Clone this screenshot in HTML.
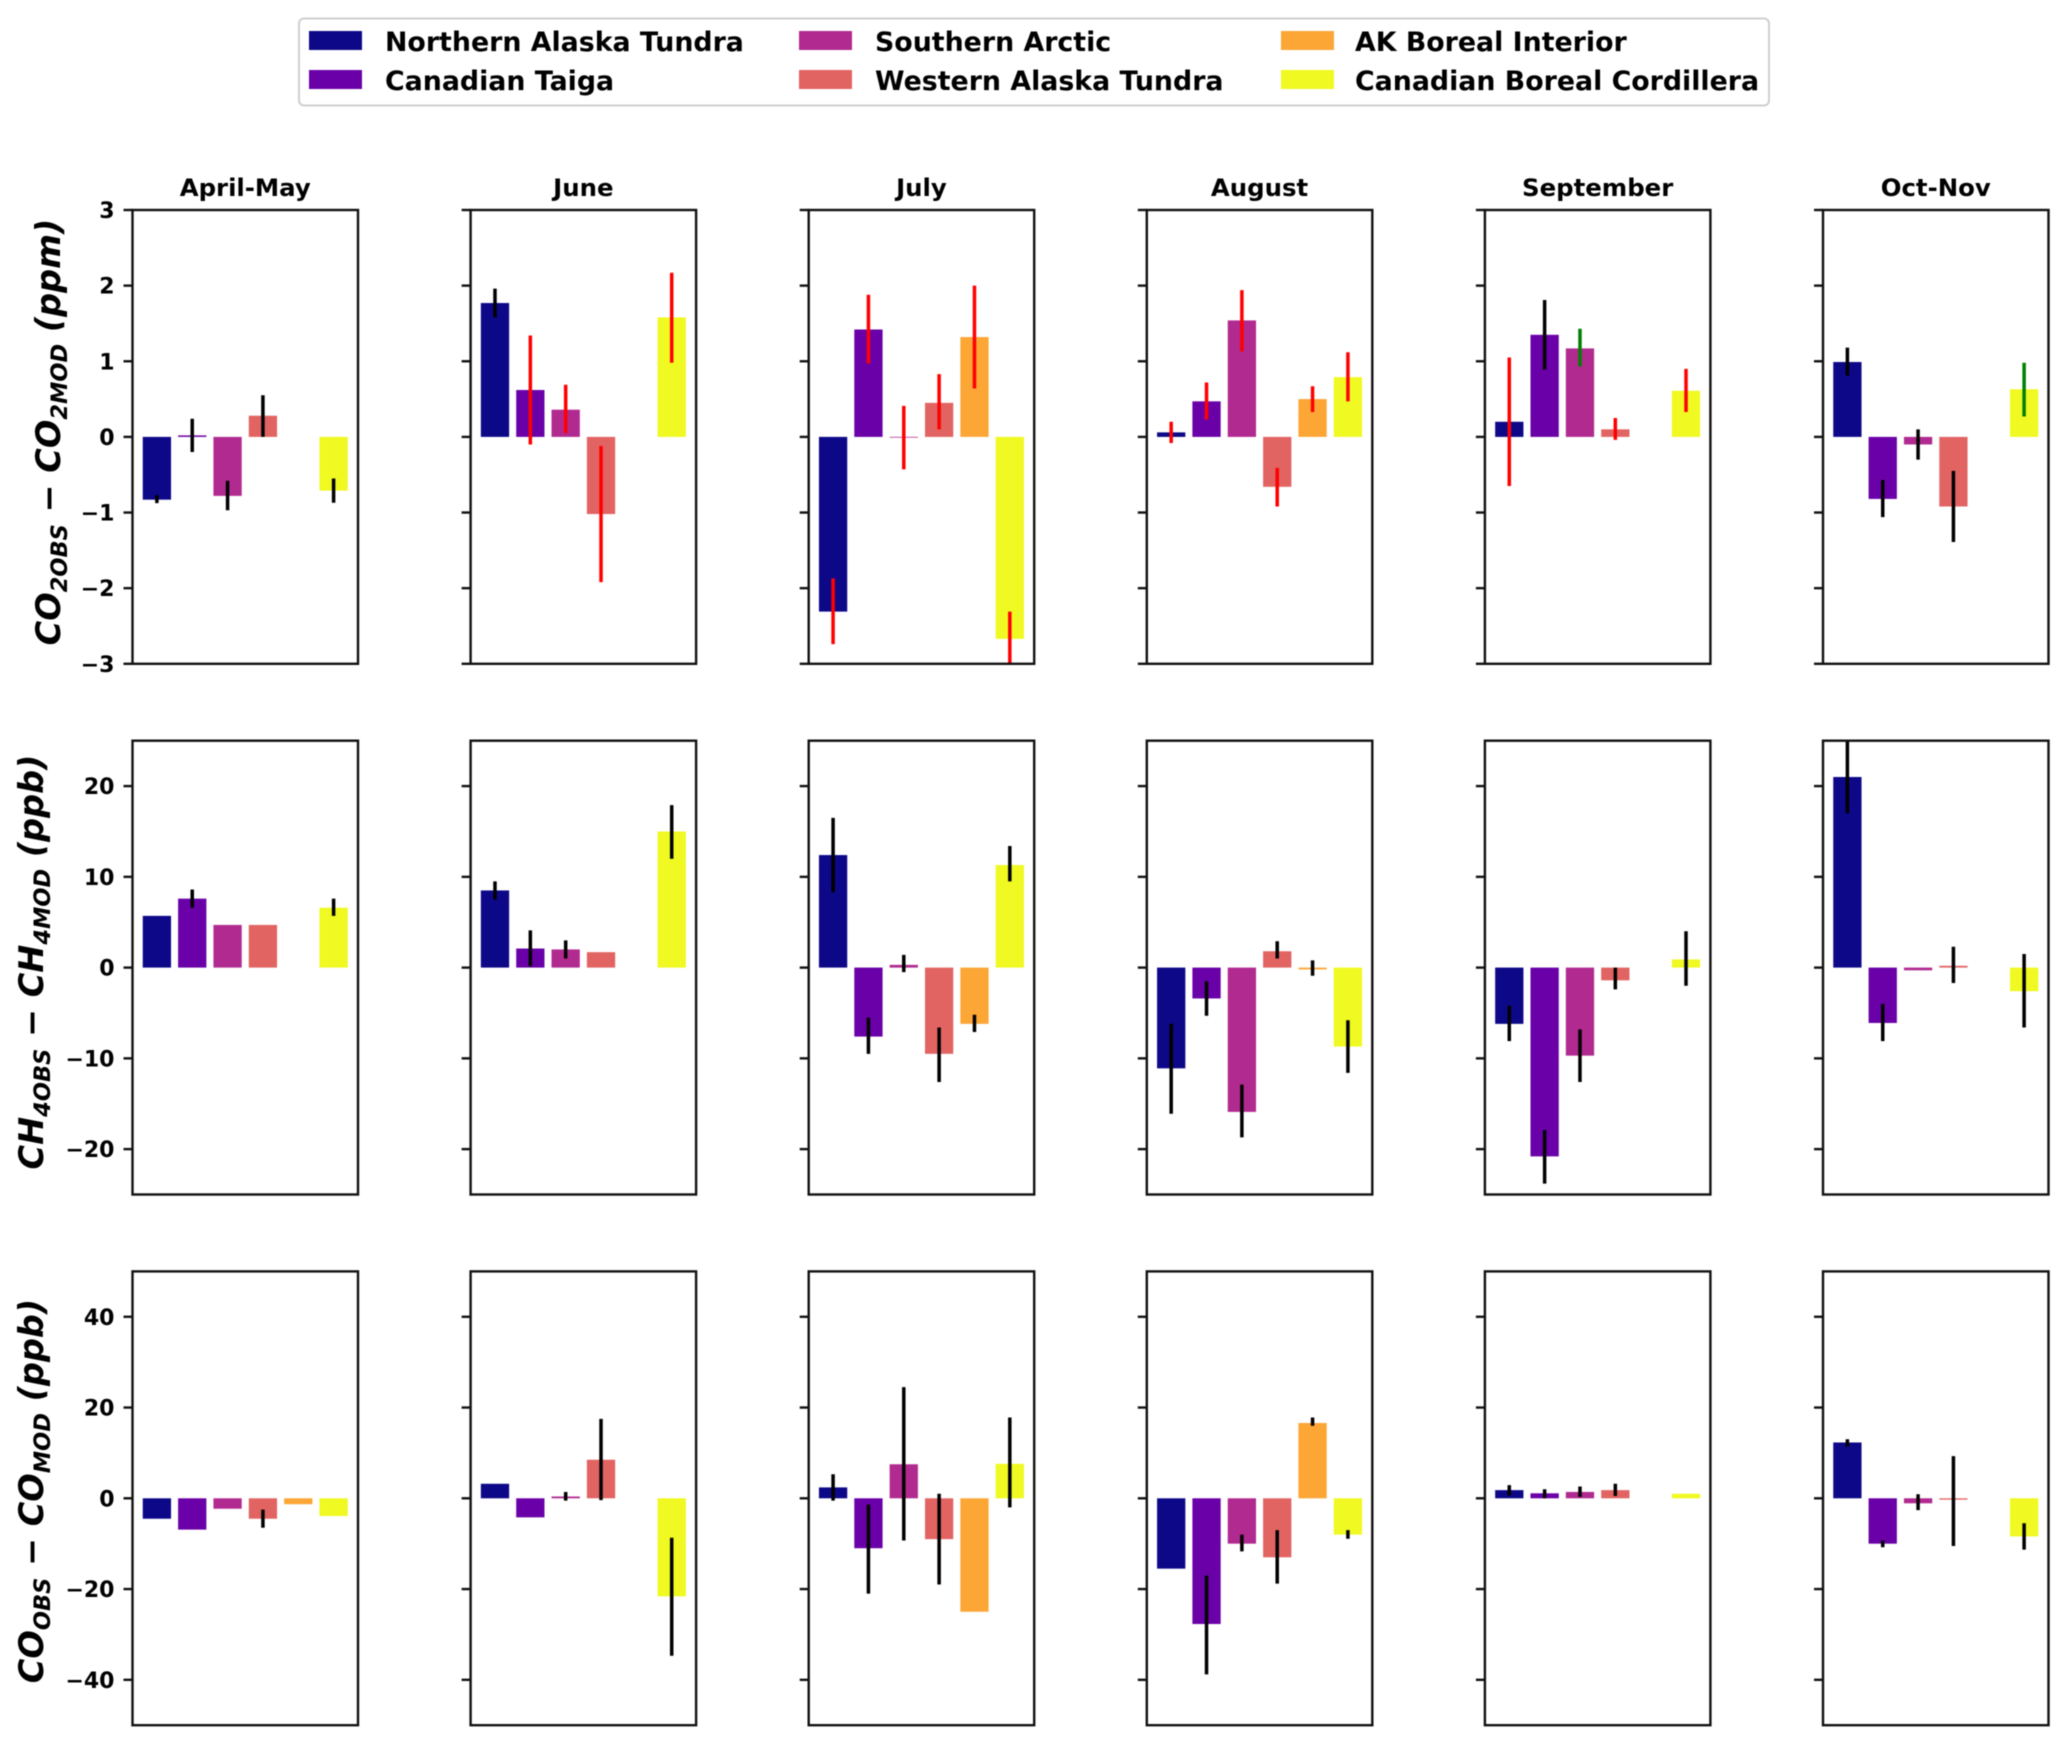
<!DOCTYPE html>
<html lang="en">
<head>
<meta charset="utf-8">
<title>Observed minus modelled trace gases by region and month</title>
<style>
html,body{margin:0;padding:0;background:#fff;}
svg{display:block;filter:blur(0.5px);}
text{font-family:"DejaVu Sans","Liberation Sans",sans-serif;font-weight:bold;fill:#000;}
.ylab{font-style:italic;font-size:33.5px;}
.sub{font-size:22.5px;}
.leg{font-size:26.8px;}
</style>
</head>
<body>
<svg id="chart" xmlns="http://www.w3.org/2000/svg" width="2067" height="1744" viewBox="0 0 2067 1744">
  <rect x="0" y="0" width="2067" height="1744" fill="#fff"/>
  <g>
    <rect x="299" y="18.500" width="1470" height="87" rx="5" fill="#fff" stroke="#cfcfcf" stroke-width="2"/>
    <rect x="309" y="31" width="53" height="19" fill="#0d0887"/>
    <text class="leg" x="385" y="51">Northern Alaska Tundra</text>
    <rect x="309" y="70" width="53" height="19" fill="#6a00a8"/>
    <text class="leg" x="385" y="90">Canadian Taiga</text>
    <rect x="799" y="31" width="53" height="19" fill="#b12a90"/>
    <text class="leg" x="875" y="51">Southern Arctic</text>
    <rect x="799" y="70" width="53" height="19" fill="#e16462"/>
    <text class="leg" x="875" y="90">Western Alaska Tundra</text>
    <rect x="1281" y="31" width="53" height="19" fill="#fca636"/>
    <text class="leg" x="1355" y="51">AK Boreal Interior</text>
    <rect x="1281" y="70" width="53" height="19" fill="#f0f921"/>
    <text class="leg" x="1355" y="90">Canadian Boreal Cordillera</text>
  </g>
  <text class="ylab" transform="translate(60,432) rotate(-90)" text-anchor="middle">CO<tspan class="sub" dy="7">2OBS</tspan><tspan dy="-7"> − CO</tspan><tspan class="sub" dy="7">2MOD</tspan><tspan dy="-7"> (ppm)</tspan></text>
  <text class="ylab" transform="translate(43,962) rotate(-90)" text-anchor="middle">CH<tspan class="sub" dy="7">4OBS</tspan><tspan dy="-7"> − CH</tspan><tspan class="sub" dy="7">4MOD</tspan><tspan dy="-7"> (ppb)</tspan></text>
  <text class="ylab" transform="translate(43,1491) rotate(-90)" text-anchor="middle">CO<tspan class="sub" dy="7">OBS</tspan><tspan dy="-7"> − CO</tspan><tspan class="sub" dy="7">MOD</tspan><tspan dy="-7"> (ppb)</tspan></text>
  <g id="panels"></g>
</svg>
<script>
const months = ['April-May','June','July','August','September','Oct-Nov'];
const regions = ['northern-alaska-tundra','canadian-taiga','southern-arctic','western-alaska-tundra','ak-boreal-interior','canadian-boreal-cordillera'];
const regionColors = ['#0d0887','#6a00a8','#b12a90','#e16462','#fca636','#f0f921'];

const co2Ticks = [-3,-2,-1,0,1,2,3];
const ch4Ticks = [-20,-10,0,10,20];
const coTicks = [-40,-20,0,20,40];
const co2Limit = [-3,3];
const ch4Limit = [-25,25];
const coLimit = [-50,50];

const co2Values = [
  [-0.83,0.02,-0.78,0.28,null,-0.71],
  [1.77,0.62,0.36,-1.02,null,1.58],
  [-2.31,1.42,-0.01,0.45,1.32,-2.67],
  [0.06,0.47,1.54,-0.66,0.5,0.79],
  [0.2,1.35,1.17,0.1,null,0.61],
  [0.99,-0.82,-0.1,-0.92,null,0.63]
];
const co2ErrHigh = [
  [-0.77,0.24,-0.58,0.55,null,-0.55],
  [1.96,1.34,0.69,-0.12,null,2.17],
  [-1.87,1.88,0.41,0.83,2.0,-2.31],
  [0.2,0.72,1.94,-0.41,0.67,1.12],
  [1.05,1.81,1.43,0.25,null,0.9],
  [1.18,-0.57,0.1,-0.45,null,0.98]
];
const co2ErrLow = [
  [-0.875,-0.2,-0.97,0,null,-0.87],
  [1.58,-0.1,0.05,-1.92,null,0.98],
  [-2.74,0.97,-0.43,0.1,0.64,-3.02],
  [-0.08,0.23,1.13,-0.92,0.33,0.47],
  [-0.65,0.89,0.93,-0.04,null,0.33],
  [0.81,-1.06,-0.3,-1.39,null,0.27]
];
const co2ErrColors = [
  ['#000','#000','#000','#000','#000','#000'],
  ['#000','#f00','#f00','#f00','#f00','#f00'],
  ['#f00','#f00','#f00','#f00','#f00','#f00'],
  ['#f00','#f00','#f00','#f00','#f00','#f00'],
  ['#f00','#000','#008000','#f00','#f00','#f00'],
  ['#000','#000','#000','#000','#000','#008000']
];

const ch4Values = [
  [5.7,7.6,4.7,4.7,null,6.6],
  [8.5,2.1,2.0,1.7,null,15],
  [12.4,-7.6,0.3,-9.5,-6.2,11.3],
  [-11.1,-3.4,-15.9,1.8,-0.2,-8.7],
  [-6.2,-20.8,-9.7,-1.4,null,0.9],
  [21,-6.1,-0.3,0.2,null,-2.6]
];
const ch4ErrHigh = [
  [null,8.6,null,null,null,7.6],
  [9.5,4.1,3,null,null,17.9],
  [16.5,-5.5,1.4,-6.6,-5.2,13.4],
  [-6.2,-1.5,-12.9,2.9,0.8,-5.8],
  [-4.2,-17.9,-6.8,0,null,4],
  [25.2,-4,null,2.3,null,1.5]
];
const ch4ErrLow = [
  [null,6.6,null,null,null,5.7],
  [7.5,0.15,1,null,null,12],
  [8.3,-9.5,-0.5,-12.6,-7.1,9.5],
  [-16.1,-5.3,-18.7,1,-0.9,-11.6],
  [-8.1,-23.8,-12.6,-2.4,null,-2],
  [17,-8.1,null,-1.7,null,-6.6]
];

const coValues = [
  [-4.5,-6.9,-2.3,-4.5,-1.3,-3.9],
  [3.2,-4.2,0.4,8.5,null,-21.6],
  [2.4,-11,7.5,-9,-25,7.6],
  [-15.5,-27.7,-10,-13,16.6,-8],
  [1.8,1.1,1.4,1.8,null,1],
  [12.3,-10,-1.1,-0.3,null,-8.4]
];
const coErrHigh = [
  [null,null,null,-2.5,null,null],
  [null,null,1.4,17.5,null,-8.7],
  [5.3,-1.4,24.5,1,null,17.8],
  [null,-17,-8,-7,17.8,-7],
  [2.9,2,2.6,3.2,null,null],
  [13,-9.3,0.9,9.3,null,-5.5]
];
const coErrLow = [
  [null,null,null,-6.5,null,null],
  [null,null,-0.5,-0.4,null,-34.7],
  [-0.5,-21,-9.3,-19,null,-2],
  [null,-38.8,-11.7,-18.8,16,-8.9],
  [0.6,0,0.3,0.5,null,null],
  [11.4,-10.8,-2.6,-10.5,null,-11.3]
];

const NS = 'http://www.w3.org/2000/svg';
const PANEL_LEFT = 132.5, PANEL_PITCH = 338.1, PANEL_W = 225.5;
const ROW_TOP = 210, ROW_PITCH = 530.7, PANEL_H = 453.8;
const ERR_W = 3.5, BAR_UNIT = PANEL_W / 6.38, BAR_W = 0.8 * BAR_UNIT;

function svgEl(tag, attrs) {
  const el = document.createElementNS(NS, tag);
  for (const k in attrs) el.setAttribute(k, attrs[k]);
  return el;
}
function xScale(col, idx) {
  return PANEL_LEFT + col * PANEL_PITCH + (0.69 + idx) * BAR_UNIT;
}
function yScale(row, limit, v) {
  const top = ROW_TOP + row * ROW_PITCH;
  return top + (limit[1] - v) / (limit[1] - limit[0]) * PANEL_H;
}
function tickText(v) {
  return v < 0 ? '\u2212' + Math.abs(v) : String(v);
}

function drawPanel(root, rowName, row, col, limit, ticks, values, hi, lo, errColors) {
  const left = PANEL_LEFT + col * PANEL_PITCH;
  const top = ROW_TOP + row * ROW_PITCH;
  const g = svgEl('g', {});
  
  
  root.appendChild(g);

  const clipId = 'clip-' + row + '-' + col;
  const clip = svgEl('clipPath', { id: clipId });
  clip.appendChild(svgEl('rect', { x: left, y: top, width: PANEL_W, height: PANEL_H }));
  g.appendChild(clip);

  values.forEach(function (v, i) {
    if (v === null) return;
    const y0 = yScale(row, limit, 0);
    const y1 = yScale(row, limit, v);
    const bar = svgEl('rect', {
      x: xScale(col, i) - BAR_W / 2,
      y: Math.min(y0, y1),
      width: BAR_W,
      height: Math.abs(y1 - y0),
      fill: regionColors[i],
      'clip-path': 'url(#' + clipId + ')'
    });
    
    
    g.appendChild(bar);
  });

  values.forEach(function (v, i) {
    if (hi[i] === null || lo[i] === null) return;
    const line = svgEl('line', {
      x1: xScale(col, i), x2: xScale(col, i),
      y1: yScale(row, limit, hi[i]), y2: yScale(row, limit, lo[i]),
      stroke: errColors ? errColors[i] : '#000',
      'stroke-width': ERR_W,
      'clip-path': 'url(#' + clipId + ')'
    });
    
    
    g.appendChild(line);
  });

  const frame = svgEl('rect', { x: left, y: top, width: PANEL_W, height: PANEL_H, fill: 'none', stroke: '#111', 'stroke-width': 2.4 });
  
  
  g.appendChild(frame);

  ticks.forEach(function (t) {
    const y = yScale(row, limit, t);
    const tick = svgEl('line', { x1: left - 9, x2: left, y1: y, y2: y, stroke: '#111', 'stroke-width': 2.4 });
    
    
    g.appendChild(tick);
    if (col === 0) {
      const lab = svgEl('text', { x: left - 18, y: y + 8, 'text-anchor': 'end', 'font-size': 22 });
      lab.textContent = tickText(t);
      
      
      g.appendChild(lab);
    }
  });

  if (row === 0) {
    const title = svgEl('text', { x: left + PANEL_W / 2, y: 196, 'text-anchor': 'middle', 'font-size': 24.4 });
    title.textContent = months[col];
    
    
    g.appendChild(title);
  }
}

const panelsRoot = document.getElementById('panels');
months.forEach(function (m, col) {
  drawPanel(panelsRoot, 'co2', 0, col, co2Limit, co2Ticks, co2Values[col], co2ErrHigh[col], co2ErrLow[col], co2ErrColors[col]);
  drawPanel(panelsRoot, 'ch4', 1, col, ch4Limit, ch4Ticks, ch4Values[col], ch4ErrHigh[col], ch4ErrLow[col], null);
  drawPanel(panelsRoot, 'co', 2, col, coLimit, coTicks, coValues[col], coErrHigh[col], coErrLow[col], null);
});
</script>
</body>
</html>
